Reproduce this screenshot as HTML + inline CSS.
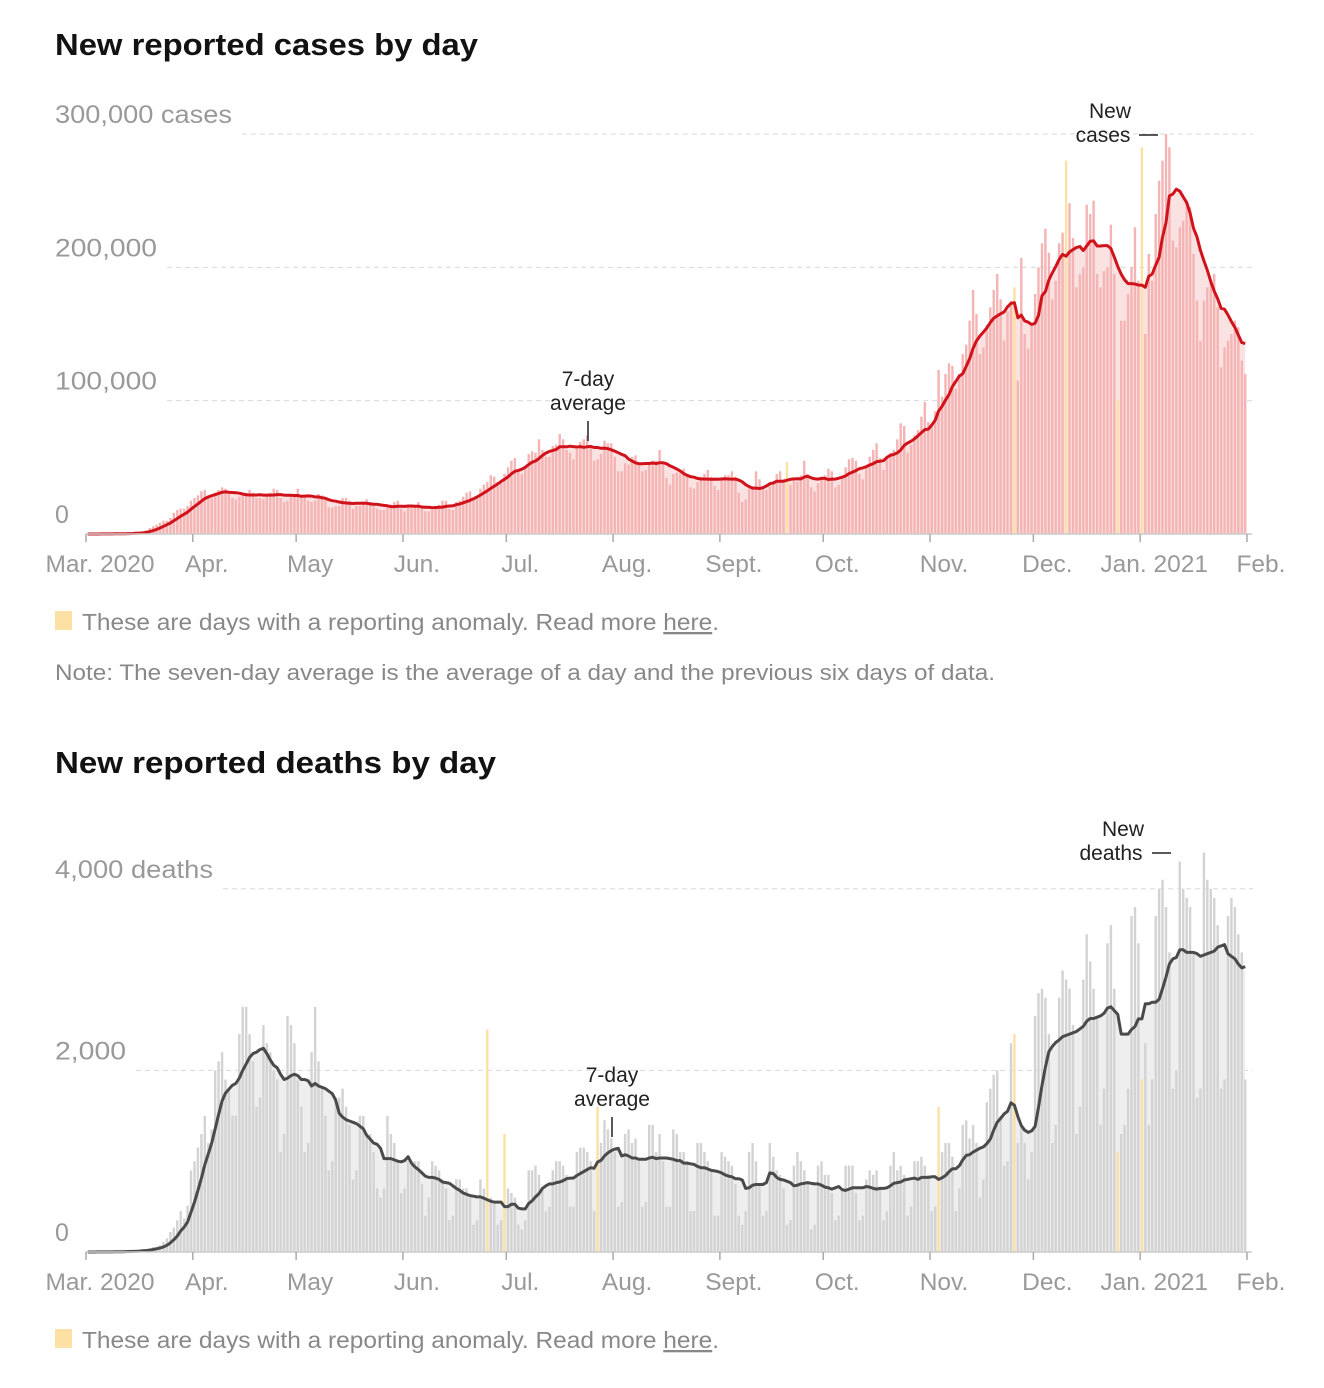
<!DOCTYPE html>
<html><head><meta charset="utf-8"><style>
html,body{margin:0;padding:0;background:#fff;}
svg{display:block;font-family:"Liberation Sans",sans-serif;}
</style></head><body>
<svg id="chart" width="1324" height="1388" viewBox="0 0 1324 1388" xmlns="http://www.w3.org/2000/svg"></svg>
<script>
// ---- DATA ----
// daily new cases (thousands), day 0 = Mar 1 2020
const caseValues = [
0,0,0,0.1,0.1,0.1,0.2, 0.1,0.2,0.3,0.4,0.5,0.6,0.7, 0.8,1.2,1.8,2.8,4.5,5.8,7, 8.5,10,10,12,16,18,19, 19,21,25,
27,29,32,33, 28,27,31,33,35,34,31, 27,26,28,29,31,33,31, 27,27,26,29,31,34,33, 27,24,25,29,30,
34,29, 28,25,24,25,30,29,27, 20,20,21,21,27,27,25, 19,21,21,22,26,24,23, 19,18,18,20,22,24,25, 19,
17,20,20,21,24,21, 17,17,18,21,22,25,25, 19,18,24,25,28,31,32, 27,27,34,37,39,44,43, 39,40,45,
50,55,57,48, 45,50,60,62,61,71,63, 58,58,66,67,75,71,63, 61,56,64,69,71,74,65, 55,56,60,70,68,68,
58, 47,47,53,52,58,59,53, 47,48,53,55,55,63,53, 42,37,45,46,45,49,44, 35,34,39,43,45,48,43, 36,33,
41,44,44,47,43, 31,24,26,34,36,47,41, 35,33,38,38,45,47,41, 54,37,40,39,44,55,45, 35,32,38,43,
44,49,47, 35,37,43,50,56,57,55, 45,41,50,58,63,68,57, 48,58,61,63,71,83,81, 61,67,74,78,88,99,84,
82,92,123,103,120,128,126, 109,120,135,142,160,183,165, 135,140,157,170,183,195,176, 145,167,175,185,115,207,150, 139,157,
180,200,218,229,211, 176,190,218,226,280,248,222, 185,195,200,247,240,250,195, 185,197,200,232,195,100,160, 160,180,200,230,190,
290,150, 210,190,240,265,280,300,290, 220,215,230,235,250,245,210, 175,145,175,185,190,195,170, 125,140,145,150,160,155,130, 120
];
// daily new deaths
const deathValues = [
0,0,1,2,1,1,2, 3,4,5,5,8,10,11, 14,20,25,30,40,55,60, 75,110,150,220,270,350,450, 370,510,900,
1000,1150,1300,1500, 1200,1350,2000,2100,2200,1900,1800, 1500,1500,2400,2700,2700,2400,2100, 1600,1700,2500,2300,2200,2000,1900, 1100,1300,2600,2500,2300,
1900,1600, 1100,1200,2200,2700,2100,1800,1500, 900,1000,1700,1700,1800,1600,1400, 800,900,1500,1500,1300,1300,1100, 700,600,700,1500,1300,1200,1000, 650,
700,1000,1000,1000,1000,750, 400,600,1000,950,900,800,700, 350,400,800,800,700,700,600, 300,350,800,700,2450,600,550, 300,350,1300,
700,650,600,300, 250,350,900,900,950,850,700, 450,500,900,1000,1000,950,850, 500,500,1100,1150,1150,1100,1000, 450,1600,1200,1450,1350,1250,
1100, 500,550,1300,1350,1200,1250,1000, 500,550,1400,1400,1100,1300,1000, 500,500,1350,1300,1100,1100,1000, 450,450,1200,1200,1100,1000,900, 400,400,
1100,1050,1000,950,750, 400,300,450,1100,1200,1000,750, 400,450,1200,1050,900,850,700, 300,350,950,1100,1000,900,750, 250,300,950,1000,
850,850,650, 350,400,700,950,950,950,650, 350,400,800,900,850,900,700, 350,450,950,1100,900,950,850, 400,500,1000,1000,1050,950,850,
450,500,1600,1100,1200,1200,1050, 450,700,1400,1450,1250,1400,1200, 600,800,1650,1800,1950,2000,1500, 950,1000,2300,2400,1200,1400,1200, 800,1100,
2600,2850,2900,2800,2400, 1200,1400,2800,3100,3000,2900,2500, 1300,1600,3000,3500,3200,2900,2600, 1400,1800,3400,3600,2900,1100,1300, 1400,1800,3700,3800,3400,
1900,2300, 1400,1900,3700,4000,4100,3800,3300, 1800,2000,4300,4000,3900,3800,3300, 1700,1800,4400,4100,4000,3900,3600, 1800,1900,3700,3900,3800,3500,3300, 1900
];
const caseAnomalies = [203, 269, 284, 299, 306];
const deathAnomalies = [116, 121, 148, 247, 269, 299, 306];
const monthStarts = [0,31,61,92,122,153,184,214,245,275,306,337];
const monthLabels = ["Mar. 2020","Apr.","May","Jun.","Jul.","Aug.","Sept.","Oct.","Nov.","Dec.","Jan. 2021","Feb."];
const caseTicks = [0,100,200,300];
const caseTickLabels = ["0","100,000","200,000","300,000 cases"];
const deathTicks = [0,2000,4000];
const deathTickLabels = ["0","2,000","4,000 deaths"];

// ---- RENDER ----
const NS="http://www.w3.org/2000/svg";
const svg=document.getElementById('chart');
function mk(tag,attrs,parent){const e=document.createElementNS(NS,tag);for(const k in attrs)e.setAttribute(k,attrs[k]);(parent||svg).appendChild(e);return e;}
function txt(str,attrs,parent){const e=mk('text',attrs,parent);e.textContent=str;return e;}
const xS=d=>86+d*3.445;
function avg7(arr,anom){return arr.map((v,i)=>{let s=0,n=0;for(let j=Math.max(0,i-6);j<=i;j++){if(anom.includes(j))continue;s+=arr[j];n++;}return n?s/n:0;});}
const yLabelLen={"100,000":102,"200,000":102,"300,000 cases":177,"2,000":71,"4,000 deaths":158};

function drawChart(o){
  const g=mk('g',{});
  
  
  const t=txt(o.title,{x:55,y:o.titleY,'font-size':31,'font-weight':'bold',fill:'#121212',textLength:o.titleLen,lengthAdjust:'spacingAndGlyphs'},g);
  
  
  o.ticks.forEach((v,i)=>{
    const y=o.yS(v);
    if(v>0){
      const l=mk('line',{x1:o.gridStart[i],x2:1253,y1:y,y2:y,stroke:'#d9d9d9','stroke-width':1,'stroke-dasharray':'5,4'},g);
      
      
    }
    const at={x:55,y:y-11,'font-size':25,fill:'#999'};
    const lab=o.tickLabels[i];
    if(yLabelLen[lab]){at.textLength=yLabelLen[lab];at.lengthAdjust='spacingAndGlyphs';}
    const lb=txt(lab,at,g);
    
    
  });
  const av=avg7(o.values,o.anom);
  let p='M'+xS(0)+','+o.yS(0);
  av.forEach((v,i)=>{p+=' L'+(xS(i)+1.7).toFixed(1)+','+o.yS(v).toFixed(1);});
  p+=' L'+(xS(av.length-1)+1.7)+','+o.yS(0)+' Z';
  const area=mk('path',{d:p,fill:o.areaColor},g);
  
  
  o.values.forEach((v,i)=>{
    const an=o.anom.includes(i);
    const y=o.yS(v);
    const b=mk('rect',{x:(xS(i)+0.5).toFixed(1),y:y.toFixed(1),width:2.4,height:(o.yS(0)-y).toFixed(1),fill:an?'#fde0a4':o.barColor},g);
    
    
  });
  let lp='';
  av.forEach((v,i)=>{lp+=(i?' L':'M')+(xS(i)+1.7).toFixed(1)+','+o.yS(v).toFixed(1);});
  const line=mk('path',{d:lp,fill:'none',stroke:o.lineColor,'stroke-width':3,'stroke-linejoin':'round'},g);
  
  
  const ax=mk('line',{x1:86,x2:1252,y1:o.yS(0),y2:o.yS(0),stroke:'#ccc','stroke-width':1.5},g);
  
  
  monthStarts.forEach((d,i)=>{
    const x=xS(d);
    const tk=mk('line',{x1:x,x2:x,y1:o.yS(0),y2:o.yS(0)+8,stroke:'#aaa','stroke-width':1.5},g);
    
    
    const lb=txt(monthLabels[i],{x:x+14,y:o.yS(0)+38,'font-size':24.5,fill:'#999','text-anchor':'middle'},g);
    
    
  });
  o.notes.forEach(n=>{
    const a=txt(n.t,{x:n.x,y:n.y,'font-size':21,fill:'#222','text-anchor':'middle'},g);
    
    
  });
  o.leaders.forEach(L=>{
    const l=mk('line',{x1:L[0],y1:L[1],x2:L[2],y2:L[3],stroke:'#222','stroke-width':1.5},g);
    
    
  });
  const sq=mk('rect',{x:55,y:o.legendY-19,width:17,height:19,fill:'#fde0a4'},g);
  
  
  const lt=mk('text',{x:82,y:o.legendY,'font-size':23,fill:'#888',textLength:637,lengthAdjust:'spacingAndGlyphs'},g);
  
  
  lt.appendChild(document.createTextNode('These are days with a reporting anomaly. Read more '));
  const ts=document.createElementNS(NS,'tspan');ts.setAttribute('text-decoration','underline');ts.textContent='here';
  
  
  lt.appendChild(ts);lt.appendChild(document.createTextNode('.'));
}

drawChart({name:'cases-chart',title:'New reported cases by day',titleY:55,titleLen:423,
  values:caseValues,anom:caseAnomalies,yS:v=>534-v*1.3333,ticks:caseTicks,tickLabels:caseTickLabels,
  gridStart:[0,167,167,242],barColor:'#f4b4b4',areaColor:'#fbe2e2',lineColor:'#d0121b',legendY:630,
  notes:[{t:'7-day',x:588,y:386},{t:'average',x:588,y:410},{t:'New',x:1110,y:118},{t:'cases',x:1103,y:142}],
  leaders:[[588,421,588,441],[1139,135,1158,135]]});
drawChart({name:'deaths-chart',title:'New reported deaths by day',titleY:773,titleLen:441,
  values:deathValues,anom:deathAnomalies,yS:v=>1252-v*0.0908,ticks:deathTicks,tickLabels:deathTickLabels,
  gridStart:[0,136,223],barColor:'#d3d3d3',areaColor:'#eeeeee',lineColor:'#4a4a4a',legendY:1348,
  notes:[{t:'7-day',x:612,y:1082},{t:'average',x:612,y:1106},{t:'New',x:1123,y:836},{t:'deaths',x:1111,y:860}],
  leaders:[[612,1117,612,1137],[1152,853,1171,853]]});

const note=txt('Note: The seven-day average is the average of a day and the previous six days of data.',{x:55,y:680,'font-size':22,fill:'#888',textLength:940,lengthAdjust:'spacingAndGlyphs'});


</script>
</body></html>
